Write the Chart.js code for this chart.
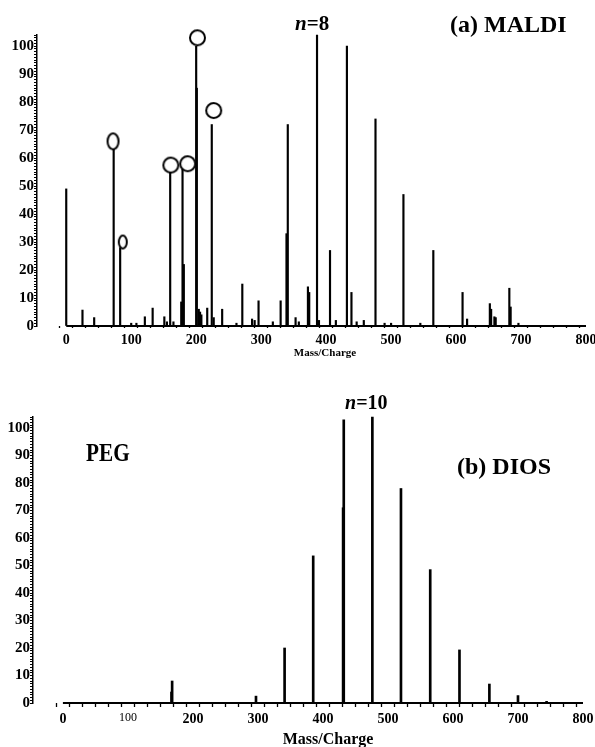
<!DOCTYPE html>
<html>
<head>
<meta charset="utf-8">
<script src="https://cdn.jsdelivr.net/npm/chart.js@4/dist/chart.umd.min.js"></script>
<style>
  body { margin: 0; background: #fff; width: 595px; height: 747px; position: relative; overflow: hidden;
         font-family: "Liberation Serif", "DejaVu Serif", serif; }
  canvas { position: absolute; left: 0; }
  #c1 { top: 0; }
  #c2 { top: 380px; }
  .lbl { position: absolute; font-weight: bold; color: #000; white-space: nowrap; line-height: 1; }
</style>
</head>
<body>
<canvas id="c1" width="595" height="360"></canvas>
<canvas id="c2" width="595" height="367"></canvas>

<div class="lbl" style="left:295px;top:13px;font-size:21px"><i>n</i>=8</div>
<div class="lbl" style="left:450px;top:12px;font-size:24px">(a) MALDI</div>
<div class="lbl" style="left:86px;top:440px;font-size:25px;transform:scaleX(0.85);transform-origin:left">PEG</div>
<div class="lbl" style="left:345px;top:392px;font-size:20px"><i>n</i>=10</div>
<div class="lbl" style="left:457px;top:454px;font-size:24px">(b) DIOS</div>
<div class="lbl" id="t1" style="left:325px;top:347px;font-size:11px;transform:translateX(-50%)"></div>
<div class="lbl" id="t2" style="left:328px;top:731px;font-size:16px;transform:translateX(-50%)"></div>

<script>
// ── (a) MALDI peaks: m/z and relative intensity ───────────────
const MALDI_MASS = [0, 25, 43, 73, 83, 100, 108, 121, 133, 151, 155, 160, 165, 177, 179, 181,
                    200, 201, 204, 206, 208, 217, 224, 227, 240, 262, 271, 286, 290, 296, 318,
                    330, 339, 341, 353, 358, 372, 374, 386, 389, 406, 415, 432, 439, 447, 458,
                    476, 490, 500, 519, 545, 565, 610, 617, 652, 654, 659, 661, 682, 684, 696];
const MALDI_INT  = [49, 5.7, 3, 64, 28, 1, 1, 3.3, 6.4, 3.3, 1.5, 56, 1.5, 8.6, 56, 22,
                    100, 85, 6, 5, 4, 6.4, 72, 3, 6, 1, 15, 2.5, 2, 9, 1.5,
                    9, 33, 72, 3, 1.5, 14, 12, 104, 2, 27, 2, 100, 12, 1.5, 2,
                    74, 1, 1, 47, 1, 27, 12, 2.5, 8, 6, 3.3, 3, 13.5, 6.8, 1];

// open circles marking the matrix peaks in (a)
const CIRCLE_MASS = [72, 87, 161, 187, 202, 227];
const CIRCLE_INT  = [66, 30, 57.5, 58, 103, 77];

// ── (b) DIOS peaks ─────────────────────────────────────────────
const DIOS_MASS = [167, 168, 297, 341, 385, 431, 432, 476, 520, 565, 610, 656, 700, 744];
const DIOS_INT  = [4, 8, 2.5, 20, 53.5, 71, 103, 104, 78, 48.5, 19.3, 6.9, 2.7, 0.6];

// axis labels
const X_LABELS = [0, 100, 200, 300, 400, 500, 600, 700, 800];
const Y_LABELS = [0, 10, 20, 30, 40, 50, 60, 70, 80, 90, 100];
const X_TITLE = 'Mass/Charge';

document.getElementById('t1').textContent = X_TITLE;
document.getElementById('t2').textContent = X_TITLE;

function pts(xs, ys) {
  return xs.map(function (x, i) { return { x: x, y: ys[i] }; });
}

// ellipse marker drawn once, used as point style
function ring(w, h) {
  const c = document.createElement('canvas');
  c.width = w + 4; c.height = h + 4;
  const g = c.getContext('2d');
  g.fillStyle = '#fff'; g.strokeStyle = '#000'; g.lineWidth = 2;
  g.beginPath();
  g.ellipse(c.width / 2, c.height / 2, w / 2, h / 2, 0, 0, Math.PI * 2);
  g.fill(); g.stroke();
  return c;
}

const FONT = 'Liberation Serif';

function spectrum(id, o) {
  const datasets = [];
  if (o.circles) {
    datasets.push({
      type: 'line', data: o.circles, showLine: false, clip: false,
      pointStyle: o.circleStyles, pointRadius: 8
    });
  }
  datasets.push({
    type: 'line', data: [{ x: 0, y: 0 }, { x: 800, y: 0 }], clip: false,
    borderColor: '#000', borderWidth: 2, pointRadius: 0
  });
  datasets.push({
    type: 'bar', data: o.peaks, backgroundColor: '#000',
    barThickness: o.barW, grouped: false, clip: false
  });

  return new Chart(document.getElementById(id), {
    type: 'bar',
    data: { datasets: datasets },
    options: {
      responsive: false,
      animation: false,
      layout: { padding: o.pad },
      plugins: { legend: { display: false }, tooltip: { enabled: false } },
      scales: {
        x: {
          type: 'linear', min: o.xmin, max: 800, offset: false,
          border: { display: false },
          grid: { drawOnChartArea: false, tickLength: o.xTickLen, tickWidth: 1.3, tickColor: '#000' },
          ticks: {
            stepSize: 20, autoSkip: false, maxRotation: 0, padding: o.xTickPad, color: '#000',
            font: o.xFont,
            callback: function (v) { return X_LABELS.indexOf(v) >= 0 ? String(v) : ''; }
          },
          // the mass axis starts at 0, right of the intensity axis
          afterBuildTicks: function (s) { s.ticks = s.ticks.filter(function (t) { return t.value >= 0; }); },
          afterFit: function (s) { s.height = o.xH; s.paddingLeft = 0; s.paddingRight = 0; }
        },
        y: {
          min: 0, max: 104,
          border: { display: true, color: '#000', width: 1.5 },
          grid: { drawOnChartArea: false, tickLength: 3, tickWidth: 1.2, tickColor: '#000' },
          ticks: {
            stepSize: 1, autoSkip: false, padding: 0, color: '#000',
            font: { family: FONT, size: 15, weight: 'bold' },
            callback: function (v) { return Y_LABELS.indexOf(v) >= 0 ? String(v) : ''; }
          },
          afterFit: function (s) { s.width = o.yW; s.paddingTop = 0; s.paddingBottom = 0; }
        }
      }
    }
  });
}

spectrum('c1', {
  peaks: pts(MALDI_MASS, MALDI_INT),
  circles: pts(CIRCLE_MASS, CIRCLE_INT),
  circleStyles: [ring(11, 16), ring(8, 13), ring(15, 15), ring(15, 15), ring(15, 15), ring(15, 15)],
  barW: 1.5, xmin: -45, pad: { top: 35, left: 0, right: 8, bottom: 0 },
  yW: 37, xH: 34, xTickLen: 2, xTickPad: 4,
  xFont: { family: FONT, size: 14, weight: 'bold' }
});

spectrum('c2', {
  peaks: pts(DIOS_MASS, DIOS_INT),
  barW: 2, xmin: -46, pad: { top: 37, left: 0, right: 12, bottom: 0 },
  yW: 33, xH: 44, xTickLen: 4, xTickPad: 4,
  xFont: function (c) {
    // the "100" label is set in a lighter, narrower face in the original
    if (c.tick && c.tick.value === 100) return { family: FONT, size: 12, weight: 'normal' };
    return { family: FONT, size: 14, weight: 'bold' };
  }
});
</script>
</body>
</html>
